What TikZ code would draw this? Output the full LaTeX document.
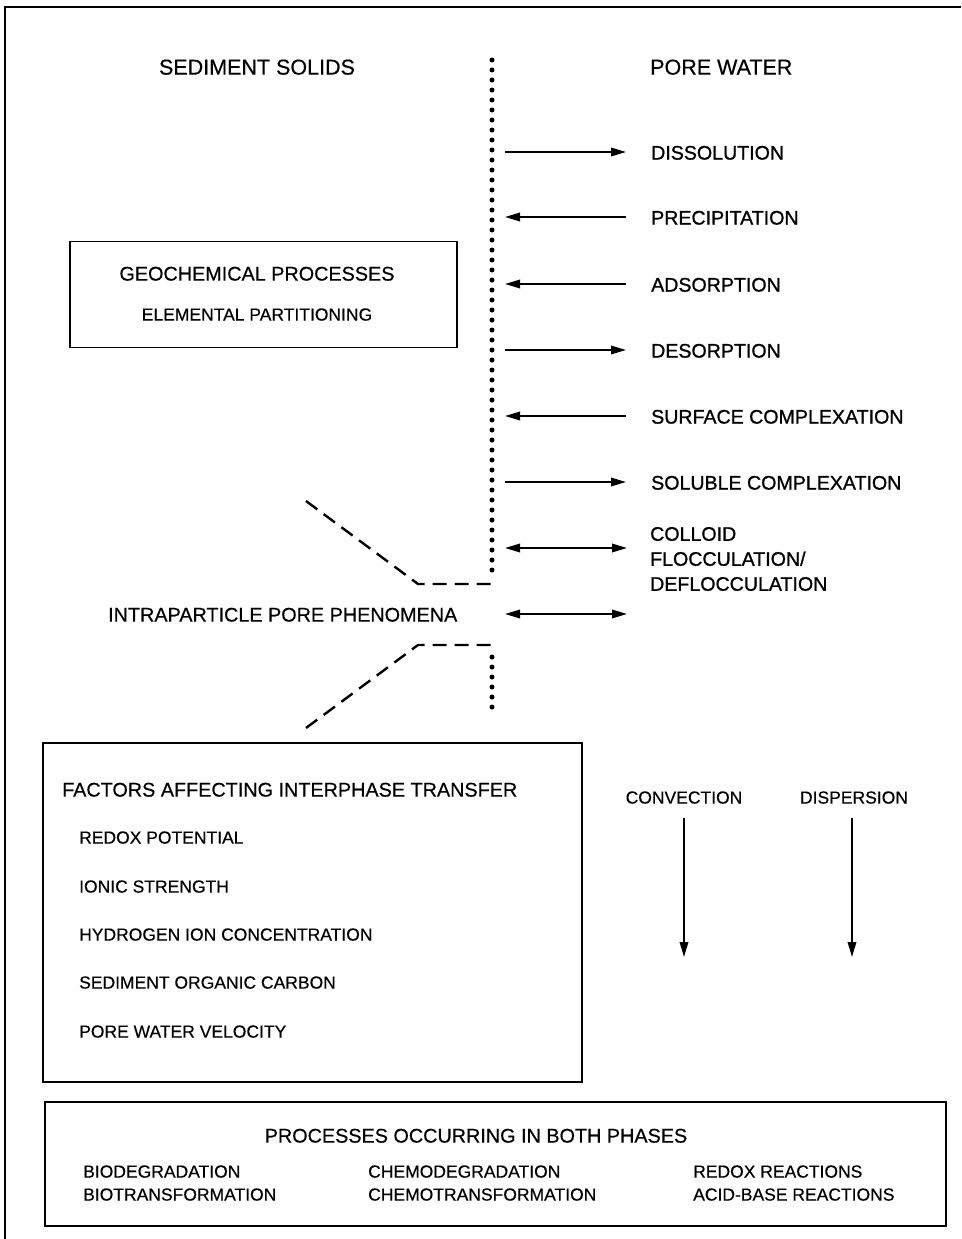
\documentclass[tikz,border=0pt]{standalone}
\usepackage{fontspec}
\setmainfont{Liberation Sans}[FakeBold=0.4]
\newfontfamily\heavyfont{Liberation Sans}[FakeBold=1.0]
\usetikzlibrary{arrows.meta}
\begin{document}
\begin{tikzpicture}[x=1pt,y=-1pt,
  frame/.style={line width=2.4pt},
  boxline/.style={draw, line width=1.8pt},
  txt/.style={inner sep=0pt, text height=0.716em, text depth=0pt, yshift=-4pt},
  lbl/.style={txt, anchor=west, font=\heavyfont\fontsize{19.6}{25}\selectfont},
  item/.style={txt, anchor=west, font=\fontsize{17.5}{22}\selectfont},
  head/.style={txt, font=\fontsize{21.5}{25}\selectfont},
  ttl/.style={txt, font=\fontsize{19.8}{24}\selectfont},
  arr/.style={line width=1.8pt, -{Triangle[length=15pt,width=8.5pt]}},
  darr/.style={line width=1.8pt, {Triangle[length=15pt,width=8.5pt]}-{Triangle[length=15pt,width=8.5pt]}},
  dots/.style={line width=5pt, line cap=round, dash pattern=on 0pt off 10pt},
  dashes/.style={line width=2.4pt, dash pattern=on 14pt off 8pt}
]
\useasboundingbox (0,0) rectangle (961,1239);
% outer frame (cropped on right and bottom)
\draw[frame] (5,1239) -- (5,7) -- (961,7);

% headings
\node[head] (solids) at (257,67) {SEDIMENT SOLIDS};
\node[head, anchor=west] (water) at (650,67) {PORE WATER};

% dotted interface
\coordinate (dt1) at (492,60);
\coordinate (db1) at (492,580);
\coordinate (dt2) at (492,657);
\coordinate (db2) at (492,717);
\draw[dots] (dt1) -- (db1);
\draw[dots] (dt2) -- (db2);

% dashed pore outline
\coordinate (u1) at (306,501);
\coordinate (u2) at (418,584);
\coordinate (u3) at (492,584);
\coordinate (l1) at (306,728);
\coordinate (l2) at (418,645);
\coordinate (l3) at (492,645);
\draw[dashes] (u1) -- (u2) -- (u3);
\draw[dashes] (l1) -- (l2) -- (l3);

% process labels
\node[lbl] (dis) at (651,152) {DISSOLUTION};
\node[lbl] (pre) at (651,217) {PRECIPITATION};
\node[lbl] (ads) at (651,284) {ADSORPTION};
\node[lbl] (des) at (651,350) {DESORPTION};
\node[lbl] (sur) at (651,416) {SURFACE COMPLEXATION};
\node[lbl] (sol) at (651,482) {SOLUBLE COMPLEXATION};
\node[lbl, align=left, text height=, text depth=, yshift=4pt] (col) at (650,559) {COLLOID\\FLOCCULATION/\\DEFLOCCULATION};

% arrow start points near interface
\coordinate (a1) at (505,152);
\coordinate (a2) at (505,217);
\coordinate (a3) at (505,284);
\coordinate (a4) at (505,350);
\coordinate (a5) at (505,416);
\coordinate (a6) at (505,482);
\coordinate (a7) at (505,548);
\coordinate (a8) at (505,614);
\coordinate (e8) at (627,614);
\coordinate (e7) at (627,548);

\draw[arr] (a1) -- ([xshift=-25pt]dis.west |- a1);
\draw[arr] ([xshift=-25pt]pre.west |- a2) -- (a2);
\draw[arr] ([xshift=-25pt]ads.west |- a3) -- (a3);
\draw[arr] (a4) -- ([xshift=-25pt]des.west |- a4);
\draw[arr] ([xshift=-25pt]sur.west |- a5) -- (a5);
\draw[arr] (a6) -- ([xshift=-25pt]sol.west |- a6);
\draw[darr] (a7) -- (e7);
\draw[darr] (a8) -- (e8);

% geochemical box
\node[boxline, minimum width=387pt, minimum height=106pt, inner sep=0pt] (geo) at (263.5,294.5) {};
\node[ttl] (geot) at (257,273) {GEOCHEMICAL PROCESSES};
\node[item, anchor=center] (geos) at (257,313) {ELEMENTAL PARTITIONING};

% intraparticle
\node[ttl, anchor=west] (intra) at (108,614) {INTRAPARTICLE PORE PHENOMENA};

% factors box
\node[boxline, minimum width=539pt, minimum height=339pt, inner sep=0pt] (fac) at (312.5,912.5) {};
\node[ttl, anchor=west] (fact) at (62,789) {FACTORS AFFECTING INTERPHASE TRANSFER};
\node[item] (f1) at (79,836) {REDOX POTENTIAL};
\node[item] (f2) at (79,885) {IONIC STRENGTH};
\node[item] (f3) at (79,933) {HYDROGEN ION CONCENTRATION};
\node[item] (f4) at (79,981) {SEDIMENT ORGANIC CARBON};
\node[item] (f5) at (79,1030) {PORE WATER VELOCITY};

% convection / dispersion
\node[item, anchor=center] (conv) at (684,796) {CONVECTION};
\node[item, anchor=center] (disp) at (854,796) {DISPERSION};
\coordinate (ce) at (684,957);
\coordinate (de) at (852,957);
\draw[arr] ([yshift=-14pt]conv.south) -- (ce);
\draw[arr] ([yshift=-14pt, xshift=-2pt]disp.south) -- (de);

% both phases box
\node[boxline, minimum width=901pt, minimum height=124pt, inner sep=0pt] (both) at (495.5,1164) {};
\node[ttl] (botht) at (476,1135) {PROCESSES OCCURRING IN BOTH PHASES};
\node[item] (b1) at (83,1170) {BIODEGRADATION};
\node[item] (b2) at (83,1193) {BIOTRANSFORMATION};
\node[item] (b3) at (368,1170) {CHEMODEGRADATION};
\node[item] (b4) at (368,1193) {CHEMOTRANSFORMATION};
\node[item] (b5) at (693,1170) {REDOX REACTIONS};
\node[item] (b6) at (693,1193) {ACID-BASE REACTIONS};
\end{tikzpicture}
\end{document}
